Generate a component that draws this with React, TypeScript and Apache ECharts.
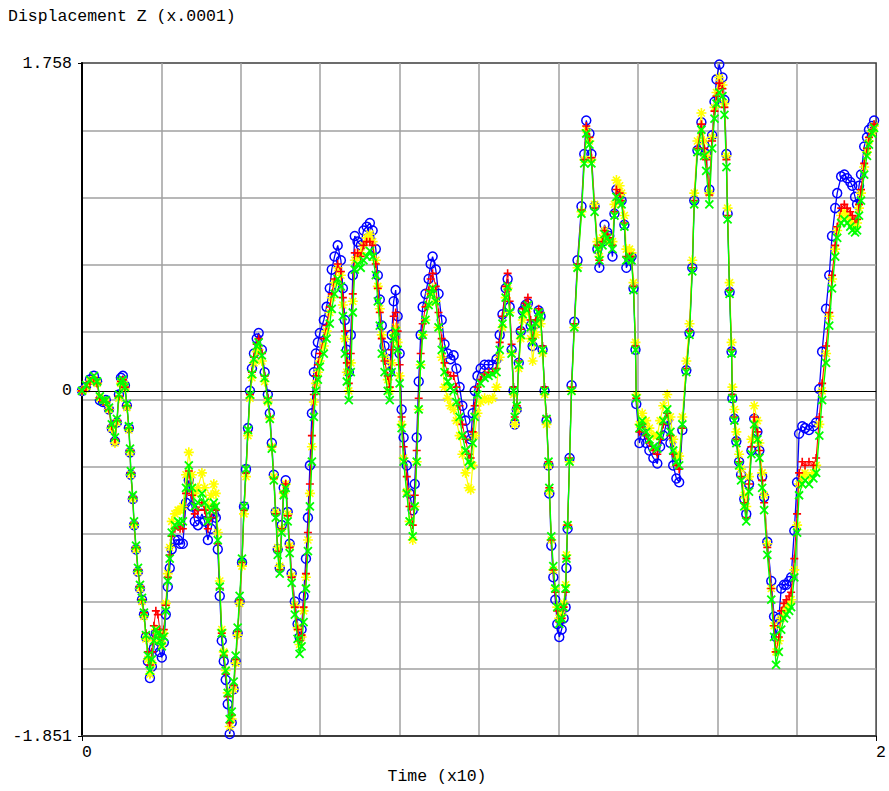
import React, { useEffect, useRef } from "react";
import * as echarts from "echarts";

// Sample times (x10 s) shared by the four response curves
const timeX10 = [
  0.000, 0.010, 0.020, 0.030, 0.038, 0.045, 0.053, 0.060, 0.068, 0.075,
  0.083, 0.088, 0.093, 0.098, 0.103, 0.108, 0.113, 0.118, 0.121, 0.123,
  0.128, 0.131, 0.136, 0.141, 0.146, 0.151, 0.156, 0.161, 0.166, 0.171,
  0.176, 0.181, 0.186, 0.191, 0.196, 0.201, 0.206, 0.211, 0.216, 0.221,
  0.226, 0.234, 0.242, 0.247, 0.254, 0.262, 0.269, 0.277, 0.284, 0.292,
  0.302, 0.309, 0.317, 0.325, 0.332, 0.337, 0.342, 0.347, 0.352, 0.357,
  0.362, 0.367, 0.372, 0.377, 0.382, 0.387, 0.392, 0.397, 0.403, 0.408,
  0.413, 0.418, 0.423, 0.428, 0.433, 0.440, 0.445, 0.453, 0.460, 0.468,
  0.473, 0.478, 0.483, 0.488, 0.493, 0.498, 0.503, 0.508, 0.513, 0.518,
  0.523, 0.528, 0.536, 0.543, 0.548, 0.553, 0.558, 0.564, 0.569, 0.574,
  0.579, 0.584, 0.589, 0.594, 0.599, 0.609, 0.616, 0.624, 0.629, 0.636,
  0.644, 0.652, 0.657, 0.662, 0.667, 0.672, 0.677, 0.682, 0.687, 0.694,
  0.702, 0.709, 0.717, 0.725, 0.732, 0.740, 0.745, 0.750, 0.755, 0.762,
  0.770, 0.775, 0.780, 0.785, 0.790, 0.795, 0.800, 0.805, 0.810, 0.818,
  0.825, 0.833, 0.838, 0.843, 0.848, 0.853, 0.858, 0.865, 0.873, 0.878,
  0.883, 0.891, 0.898, 0.906, 0.913, 0.921, 0.928, 0.936, 0.943, 0.951,
  0.958, 0.966, 0.974, 0.979, 0.984, 0.989, 0.996, 1.004, 1.014, 1.024,
  1.034, 1.044, 1.052, 1.059, 1.067, 1.072, 1.077, 1.082, 1.087, 1.090,
  1.095, 1.100, 1.105, 1.110, 1.117, 1.123, 1.130, 1.135, 1.143, 1.150,
  1.155, 1.160, 1.165, 1.170, 1.175, 1.177, 1.182, 1.187, 1.192, 1.197,
  1.202, 1.208, 1.213, 1.218, 1.220, 1.223, 1.228, 1.233, 1.240, 1.248,
  1.258, 1.265, 1.270, 1.278, 1.283, 1.291, 1.298, 1.303, 1.311, 1.316,
  1.323, 1.328, 1.336, 1.341, 1.346, 1.354, 1.359, 1.366, 1.371, 1.379,
  1.384, 1.389, 1.394, 1.396, 1.404, 1.411, 1.421, 1.429, 1.439, 1.449,
  1.456, 1.464, 1.474, 1.482, 1.489, 1.497, 1.504, 1.512, 1.522, 1.530,
  1.537, 1.542, 1.550, 1.560, 1.567, 1.572, 1.580, 1.587, 1.593, 1.598,
  1.605, 1.613, 1.618, 1.623, 1.626, 1.631, 1.636, 1.638, 1.643, 1.648,
  1.655, 1.660, 1.668, 1.673, 1.680, 1.686, 1.693, 1.701, 1.706, 1.713,
  1.718, 1.726, 1.736, 1.743, 1.748, 1.755, 1.761, 1.768, 1.774, 1.781,
  1.786, 1.794, 1.801, 1.806, 1.814, 1.821, 1.831, 1.842, 1.849, 1.857,
  1.864, 1.874, 1.882, 1.889, 1.897, 1.902, 1.912, 1.920, 1.927, 1.935,
  1.940, 1.947, 1.952, 1.957, 1.962, 1.970, 1.977, 1.982, 1.990, 1.995,
];

// Displacement Z (x.0001), blue circles
const dispCircle = [
  0.00, 0.02, 0.06, 0.08, 0.05, -0.05, -0.06, -0.05, -0.10, -0.20,
  -0.27, -0.17, -0.02, 0.07, 0.08, 0.03, -0.08, -0.20, -0.33, -0.45,
  -0.58, -0.72, -0.85, -0.97, -1.06, -1.12, -1.20, -1.32, -1.45, -1.54,
  -1.48, -1.38, -1.30, -1.33, -1.40, -1.43, -1.35, -1.20, -1.05, -0.95,
  -0.85, -0.80, -0.80, -0.82, -0.82, -0.60, -0.48, -0.62, -0.70, -0.72,
  -0.66, -0.70, -0.80, -0.74, -0.66, -0.68, -0.85, -1.10, -1.34, -1.45,
  -1.55, -1.68, -1.84, -1.78, -1.60, -1.45, -1.30, -1.13, -0.92, -0.62,
  -0.42, -0.20, 0.00, 0.12, 0.20, 0.28, 0.31, 0.22, 0.10, -0.02,
  -0.12, -0.28, -0.45, -0.65, -0.85, -0.95, -0.72, -0.52, -0.48, -0.65,
  -0.82, -0.98, -1.13, -1.25, -1.32, -1.28, -1.10, -0.90, -0.68, -0.40,
  -0.12, 0.10, 0.20, 0.26, 0.31, 0.38, 0.45, 0.55, 0.65, 0.72,
  0.78, 0.70, 0.55, 0.38, 0.22, 0.10, 0.30, 0.62, 0.83, 0.80,
  0.78, 0.86, 0.88, 0.90, 0.86, 0.76, 0.62, 0.49, 0.35, 0.24,
  0.17, 0.10, 0.30, 0.48, 0.54, 0.40, 0.20, -0.10, -0.25, -0.40,
  -0.55, -0.64, -0.50, -0.25, 0.05, 0.30, 0.45, 0.52, 0.60, 0.68,
  0.72, 0.65, 0.52, 0.38, 0.25, 0.20, 0.17, 0.19, 0.12, 0.02,
  -0.08, -0.16, -0.24, -0.26, -0.12, 0.00, 0.08, 0.12, 0.14, 0.14,
  0.14, 0.17, 0.30, 0.41, 0.55, 0.60, 0.45, 0.22, 0.00, -0.18,
  -0.10, 0.15, 0.32, 0.43, 0.46, 0.47, 0.35, 0.24, 0.36, 0.43,
  0.40, 0.22, 0.00, -0.16, -0.40, -0.55, -0.83, -1.00, -1.12, -1.25,
  -1.32, -1.28, -1.22, -1.16, -0.95, -0.74, -0.36, 0.03, 0.37, 0.70,
  0.99, 1.27, 1.45, 1.38, 1.27, 0.99, 0.76, 0.66, 0.80, 0.89,
  0.85, 0.83, 0.72, 0.95, 1.08, 1.05, 1.02, 0.89, 0.66, 0.70,
  0.72, 0.55, 0.22, -0.07, -0.28, -0.21, -0.28, -0.32, -0.36, -0.39,
  -0.30, -0.24, -0.16, -0.28, -0.40, -0.47, -0.49, -0.21, 0.11, 0.31,
  0.66, 1.02, 1.29, 1.44, 1.32, 1.27, 1.08, 1.37, 1.55, 1.67,
  1.75, 1.68, 1.56, 1.27, 0.95, 0.53, 0.21, -0.04, -0.15, -0.27,
  -0.38, -0.45, -0.58, -0.66, -0.50, -0.32, -0.15, -0.22, -0.32, -0.46,
  -0.57, -0.81, -1.02, -1.21, -1.32, -1.22, -1.06, -1.04, -1.04, -1.02,
  -1.00, -0.75, -0.49, -0.23, -0.19, -0.20, -0.21, -0.19, -0.17, 0.01,
  0.21, 0.44, 0.62, 0.83, 0.98, 1.06, 1.15, 1.16, 1.14, 1.12,
  1.10, 1.04, 1.00, 1.10, 1.16, 1.31, 1.36, 1.40, 1.42, 1.45,
];

// Displacement Z (x.0001), red pluses
const dispPlus = [
  0.00, 0.02, 0.05, 0.07, 0.04, -0.04, -0.06, -0.06, -0.10, -0.19,
  -0.26, -0.16, -0.03, 0.05, 0.06, 0.02, -0.08, -0.20, -0.32, -0.44,
  -0.57, -0.71, -0.84, -0.96, -1.05, -1.12, -1.19, -1.30, -1.40, -1.47,
  -1.40, -1.26, -1.18, -1.20, -1.28, -1.32, -1.28, -1.15, -1.00, -0.88,
  -0.78, -0.74, -0.73, -0.74, -0.74, -0.55, -0.43, -0.56, -0.66, -0.64,
  -0.60, -0.64, -0.74, -0.68, -0.62, -0.64, -0.82, -1.06, -1.30, -1.42,
  -1.52, -1.64, -1.78, -1.74, -1.58, -1.44, -1.29, -1.12, -0.92, -0.64,
  -0.44, -0.22, -0.02, 0.10, 0.18, 0.25, 0.28, 0.20, 0.08, -0.04,
  -0.14, -0.30, -0.47, -0.66, -0.86, -0.96, -0.74, -0.54, -0.50, -0.67,
  -0.84, -1.00, -1.16, -1.28, -1.34, -1.31, -1.16, -0.98, -0.76, -0.50,
  -0.24, -0.02, 0.08, 0.14, 0.20, 0.28, 0.35, 0.45, 0.52, 0.60,
  0.68, 0.64, 0.50, 0.32, 0.15, 0.04, 0.20, 0.52, 0.74, 0.74,
  0.72, 0.78, 0.80, 0.80, 0.78, 0.68, 0.55, 0.42, 0.28, 0.16,
  0.08, 0.02, 0.22, 0.40, 0.42, 0.32, 0.14, -0.14, -0.30, -0.46,
  -0.62, -0.72, -0.56, -0.32, -0.04, 0.20, 0.36, 0.45, 0.54, 0.60,
  0.63, 0.56, 0.42, 0.28, 0.15, 0.10, 0.08, 0.08, 0.02, -0.08,
  -0.18, -0.26, -0.34, -0.36, -0.22, -0.08, 0.02, 0.06, 0.09, 0.10,
  0.10, 0.12, 0.26, 0.40, 0.56, 0.63, 0.48, 0.25, 0.02, -0.14,
  -0.08, 0.16, 0.33, 0.44, 0.47, 0.50, 0.38, 0.28, 0.38, 0.44,
  0.42, 0.24, 0.02, -0.14, -0.38, -0.52, -0.80, -0.96, -1.08, -1.18,
  -1.24, -1.22, -1.16, -1.08, -0.90, -0.72, -0.36, 0.02, 0.36, 0.68,
  0.97, 1.24, 1.42, 1.36, 1.25, 0.98, 0.78, 0.70, 0.80, 0.86,
  0.84, 0.82, 0.78, 0.96, 1.08, 1.06, 1.02, 0.90, 0.72, 0.72,
  0.72, 0.56, 0.24, -0.04, -0.22, -0.18, -0.24, -0.28, -0.32, -0.34,
  -0.26, -0.18, -0.12, -0.24, -0.34, -0.40, -0.42, -0.20, 0.12, 0.32,
  0.66, 1.02, 1.30, 1.43, 1.30, 1.24, 1.05, 1.34, 1.50, 1.58,
  1.65, 1.62, 1.52, 1.24, 0.94, 0.54, 0.22, -0.02, -0.14, -0.26,
  -0.38, -0.46, -0.60, -0.68, -0.50, -0.30, -0.14, -0.22, -0.32, -0.48,
  -0.60, -0.84, -1.06, -1.26, -1.40, -1.32, -1.18, -1.14, -1.12, -1.10,
  -1.08, -0.90, -0.66, -0.44, -0.38, -0.40, -0.38, -0.40, -0.36, -0.14,
  0.04, 0.24, 0.42, 0.62, 0.78, 0.88, 0.98, 1.00, 0.98, 0.96,
  0.94, 0.92, 0.92, 1.00, 1.08, 1.22, 1.30, 1.36, 1.40, 1.43,
];

// Displacement Z (x.0001), yellow stars
const dispStar = [
  0.00, 0.01, 0.05, 0.06, 0.04, -0.04, -0.05, -0.06, -0.10, -0.20,
  -0.28, -0.17, -0.04, 0.04, 0.05, 0.01, -0.09, -0.21, -0.33, -0.45,
  -0.58, -0.72, -0.85, -0.97, -1.06, -1.13, -1.21, -1.33, -1.44, -1.52,
  -1.46, -1.34, -1.28, -1.30, -1.34, -1.36, -1.30, -1.14, -0.98, -0.84,
  -0.70, -0.66, -0.64, -0.64, -0.62, -0.45, -0.33, -0.45, -0.55, -0.52,
  -0.44, -0.52, -0.62, -0.56, -0.50, -0.55, -0.76, -1.02, -1.28, -1.40,
  -1.50, -1.62, -1.80, -1.76, -1.60, -1.46, -1.31, -1.14, -0.94, -0.66,
  -0.46, -0.24, -0.04, 0.07, 0.15, 0.21, 0.22, 0.16, 0.05, -0.06,
  -0.15, -0.30, -0.46, -0.65, -0.84, -0.94, -0.74, -0.55, -0.50, -0.66,
  -0.83, -0.99, -1.15, -1.27, -1.36, -1.32, -1.18, -1.00, -0.80, -0.55,
  -0.30, -0.06, 0.04, 0.10, 0.16, 0.24, 0.32, 0.42, 0.50, 0.58,
  0.66, 0.62, 0.46, 0.28, 0.10, 0.00, 0.15, 0.48, 0.70, 0.72,
  0.74, 0.78, 0.82, 0.84, 0.80, 0.70, 0.56, 0.44, 0.30, 0.18,
  0.06, 0.00, 0.15, 0.30, 0.34, 0.26, 0.08, -0.18, -0.36, -0.54,
  -0.70, -0.80, -0.62, -0.38, -0.10, 0.14, 0.30, 0.38, 0.46, 0.52,
  0.55, 0.48, 0.34, 0.18, 0.02, -0.04, -0.08, -0.10, -0.16, -0.24,
  -0.34, -0.44, -0.52, -0.53, -0.40, -0.24, -0.12, -0.06, -0.04, -0.05,
  -0.04, 0.02, 0.18, 0.34, 0.50, 0.55, 0.42, 0.20, -0.02, -0.18,
  -0.10, 0.12, 0.28, 0.38, 0.42, 0.44, 0.28, 0.16, 0.30, 0.38,
  0.36, 0.20, -0.02, -0.18, -0.40, -0.54, -0.80, -0.96, -1.06, -1.16,
  -1.22, -1.20, -1.14, -1.04, -0.88, -0.72, -0.38, 0.00, 0.34, 0.66,
  0.96, 1.24, 1.40, 1.34, 1.24, 1.00, 0.80, 0.72, 0.82, 0.86,
  0.82, 0.80, 0.80, 1.00, 1.13, 1.10, 1.06, 0.94, 0.76, 0.76,
  0.74, 0.58, 0.26, -0.02, -0.18, -0.12, -0.16, -0.20, -0.24, -0.24,
  -0.16, -0.08, -0.02, -0.14, -0.26, -0.34, -0.35, -0.14, 0.16, 0.36,
  0.70, 1.06, 1.34, 1.49, 1.34, 1.26, 1.06, 1.36, 1.52, 1.60,
  1.68, 1.64, 1.54, 1.26, 0.98, 0.58, 0.26, 0.02, -0.10, -0.22,
  -0.34, -0.42, -0.56, -0.62, -0.46, -0.26, -0.08, -0.16, -0.28, -0.44,
  -0.56, -0.82, -1.06, -1.26, -1.40, -1.34, -1.22, -1.18, -1.16, -1.14,
  -1.12, -0.96, -0.72, -0.50, -0.46, -0.44, -0.46, -0.44, -0.40, -0.18,
  0.00, 0.20, 0.40, 0.60, 0.76, 0.86, 0.94, 0.96, 0.94, 0.92,
  0.90, 0.88, 0.90, 0.98, 1.06, 1.20, 1.28, 1.34, 1.39, 1.42,
];

// Displacement Z (x.0001), green crosses
const dispCross = [
  0.00, 0.03, 0.06, 0.08, 0.05, -0.03, -0.05, -0.05, -0.09, -0.18,
  -0.25, -0.15, -0.02, 0.05, 0.06, 0.02, -0.07, -0.19, -0.31, -0.43,
  -0.56, -0.70, -0.83, -0.95, -1.04, -1.11, -1.19, -1.31, -1.42, -1.50,
  -1.44, -1.34, -1.28, -1.30, -1.34, -1.37, -1.32, -1.18, -1.02, -0.90,
  -0.76, -0.72, -0.70, -0.71, -0.70, -0.52, -0.40, -0.52, -0.62, -0.60,
  -0.55, -0.60, -0.70, -0.64, -0.60, -0.62, -0.80, -1.05, -1.30, -1.41,
  -1.50, -1.62, -1.76, -1.72, -1.56, -1.42, -1.27, -1.10, -0.90, -0.62,
  -0.42, -0.21, -0.02, 0.09, 0.17, 0.24, 0.26, 0.19, 0.07, -0.05,
  -0.15, -0.31, -0.48, -0.68, -0.88, -0.98, -0.76, -0.56, -0.52, -0.70,
  -0.87, -1.03, -1.20, -1.33, -1.41, -1.37, -1.24, -1.06, -0.86, -0.62,
  -0.38, -0.14, 0.00, 0.06, 0.13, 0.20, 0.28, 0.36, 0.44, 0.52,
  0.60, 0.56, 0.40, 0.20, 0.05, -0.05, 0.10, 0.42, 0.65, 0.68,
  0.66, 0.70, 0.72, 0.75, 0.72, 0.62, 0.48, 0.35, 0.20, 0.10,
  0.00, -0.05, 0.10, 0.28, 0.32, 0.22, 0.04, -0.20, -0.38, -0.55,
  -0.70, -0.78, -0.62, -0.38, -0.10, 0.14, 0.30, 0.38, 0.46, 0.52,
  0.55, 0.48, 0.34, 0.22, 0.10, 0.05, 0.02, 0.00, -0.06, -0.14,
  -0.24, -0.32, -0.38, -0.40, -0.28, -0.14, -0.02, 0.04, 0.07, 0.08,
  0.09, 0.10, 0.22, 0.36, 0.50, 0.56, 0.42, 0.20, 0.00, -0.14,
  -0.08, 0.14, 0.30, 0.41, 0.44, 0.46, 0.34, 0.26, 0.36, 0.42,
  0.40, 0.22, 0.00, -0.15, -0.38, -0.52, -0.78, -0.94, -1.06, -1.16,
  -1.25, -1.22, -1.16, -1.06, -0.90, -0.72, -0.38, 0.00, 0.34, 0.66,
  0.95, 1.22, 1.38, 1.32, 1.22, 0.96, 0.76, 0.70, 0.78, 0.84,
  0.82, 0.80, 0.76, 0.94, 1.04, 1.02, 1.00, 0.88, 0.70, 0.72,
  0.70, 0.54, 0.22, -0.04, -0.20, -0.16, -0.22, -0.26, -0.30, -0.31,
  -0.24, -0.16, -0.10, -0.22, -0.32, -0.38, -0.40, -0.18, 0.10, 0.30,
  0.64, 1.00, 1.28, 1.40, 1.26, 1.18, 1.00, 1.30, 1.46, 1.54,
  1.60, 1.58, 1.48, 1.20, 0.92, 0.52, 0.20, -0.04, -0.16, -0.28,
  -0.40, -0.48, -0.62, -0.70, -0.54, -0.34, -0.18, -0.26, -0.36, -0.52,
  -0.64, -0.88, -1.12, -1.32, -1.47, -1.40, -1.28, -1.22, -1.20, -1.18,
  -1.16, -1.00, -0.76, -0.56, -0.50, -0.48, -0.50, -0.47, -0.44, -0.24,
  -0.05, 0.15, 0.35, 0.55, 0.72, 0.82, 0.90, 0.92, 0.90, 0.88,
  0.86, 0.85, 0.86, 0.94, 1.02, 1.16, 1.26, 1.32, 1.38, 1.41,
];

const yTickValues = [-1.851, 0, 1.758];
const xTickValues = [0, 2];
const Y_MIN = -1.851;
const Y_MAX = 1.758;

const MONO = "'Liberation Mono', 'DejaVu Sans Mono', monospace";

const PLUS = "path://M0,5L10,5M5,0L5,10";
const CROSS = "path://M0,0L10,10M10,0L0,10";
const STAR = "path://M5,0L5,10M0,5L10,5M1.5,1.5L8.5,8.5M8.5,1.5L1.5,8.5";

function curve(
  name: string,
  values: number[],
  symbol: string,
  size: number,
  color: string,
  fill: string,
  strokeWidth: number,
  lineWidth: number,
  z: number
) {
  return {
    name,
    type: "line",
    data: timeX10.map((t, i) => [t, values[i]]),
    symbol,
    symbolSize: size,
    showSymbol: true,
    lineStyle: { color, width: lineWidth },
    itemStyle: { color: fill, borderColor: color, borderWidth: strokeWidth },
    emphasis: { disabled: true },
    silent: true,
    z,
  };
}

export default function App() {
  const ref = useRef<HTMLDivElement>(null);

  useEffect(() => {
    if (!ref.current) return;
    const chart = echarts.init(ref.current, null, { renderer: "svg" });

    const gridLine = { color: "#a0a0a0", width: 1.5 };
    const hidden = {
      axisLine: { show: false },
      axisTick: { show: false },
      axisLabel: { show: false },
    };

    chart.setOption({
      animation: false,
      backgroundColor: "#ffffff",
      grid: {
        left: 82,
        right: 12,
        top: 63,
        bottom: 55,
        show: true,
        borderColor: "#3c3c3c",
        borderWidth: 1.5,
        backgroundColor: "transparent",
      },
      xAxis: [
        {
          type: "value",
          min: 0,
          max: 2,
          axisLine: { show: true, onZero: false, lineStyle: { color: "#3c3c3c", width: 2 } },
          axisTick: {
            show: true,
            customValues: xTickValues,
            length: 5,
            lineStyle: { color: "#000", width: 1 },
          },
          axisLabel: {
            customValues: xTickValues,
            formatter: (v: number) => String(v),
            align: "left",
            margin: 8,
            fontFamily: MONO,
            fontSize: 16.5,
            color: "#000",
          },
          splitLine: { show: false },
        },
        {
          // ten vertical grid divisions
          type: "value",
          min: 0,
          max: 2,
          interval: 0.2,
          position: "bottom",
          ...hidden,
          splitLine: { show: true, showMinLine: false, showMaxLine: false, lineStyle: gridLine },
        },
      ],
      yAxis: [
        {
          type: "value",
          min: Y_MIN,
          max: Y_MAX,
          axisLine: { show: true, onZero: false, lineStyle: { color: "#000", width: 2 } },
          axisTick: {
            show: true,
            customValues: yTickValues,
            length: 4,
            lineStyle: { color: "#000", width: 1 },
          },
          axisLabel: {
            customValues: yTickValues,
            formatter: (v: number) => (v === 0 ? "0" : v.toFixed(3)),
            margin: 10,
            padding: [0, 0, 5, 0],
            fontFamily: MONO,
            fontSize: 16.5,
            color: "#000",
          },
          splitLine: { show: false },
        },
        {
          // ten horizontal grid divisions between the extremes
          type: "value",
          min: 0,
          max: 10,
          interval: 1,
          position: "left",
          ...hidden,
          splitLine: { show: true, showMinLine: false, showMaxLine: false, lineStyle: gridLine },
        },
      ],
      graphic: [
        {
          type: "text",
          left: 8,
          top: 8,
          style: { text: "Displacement Z (x.0001)", font: `16.5px ${MONO}`, fill: "#000" },
        },
        {
          type: "text",
          x: 437,
          y: 776,
          style: {
            text: "Time (x10)",
            font: `16.5px ${MONO}`,
            fill: "#000",
            align: "center",
            verticalAlign: "middle",
          },
        },
      ],
      series: [
        {
          name: "zero",
          type: "line",
          data: [],
          silent: true,
          z: 1,
          markLine: {
            silent: true,
            symbol: ["none", "none"],
            label: { show: false },
            lineStyle: { color: "#000", width: 1.2, type: "solid" },
            data: [{ yAxis: 0 }],
          },
        },
        curve("circle", dispCircle, "circle", 9, "#0000ff", "rgba(0,0,0,0)", 1.5, 1.3, 2),
        curve("star", dispStar, STAR, 10, "#ffff00", "#ffff00", 1.6, 1.2, 3),
        curve("plus", dispPlus, PLUS, 8, "#ff0000", "#ff0000", 1.6, 1.0, 4),
        curve("cross", dispCross, CROSS, 8, "#00ff00", "#00ff00", 1.8, 1.3, 5),
      ],
    });

    return () => chart.dispose();
  }, []);

  return (
    <div
      ref={ref}
      style={{ position: "fixed", left: 0, top: 0, width: 889, height: 791, background: "#fff" }}
    />
  );
}
